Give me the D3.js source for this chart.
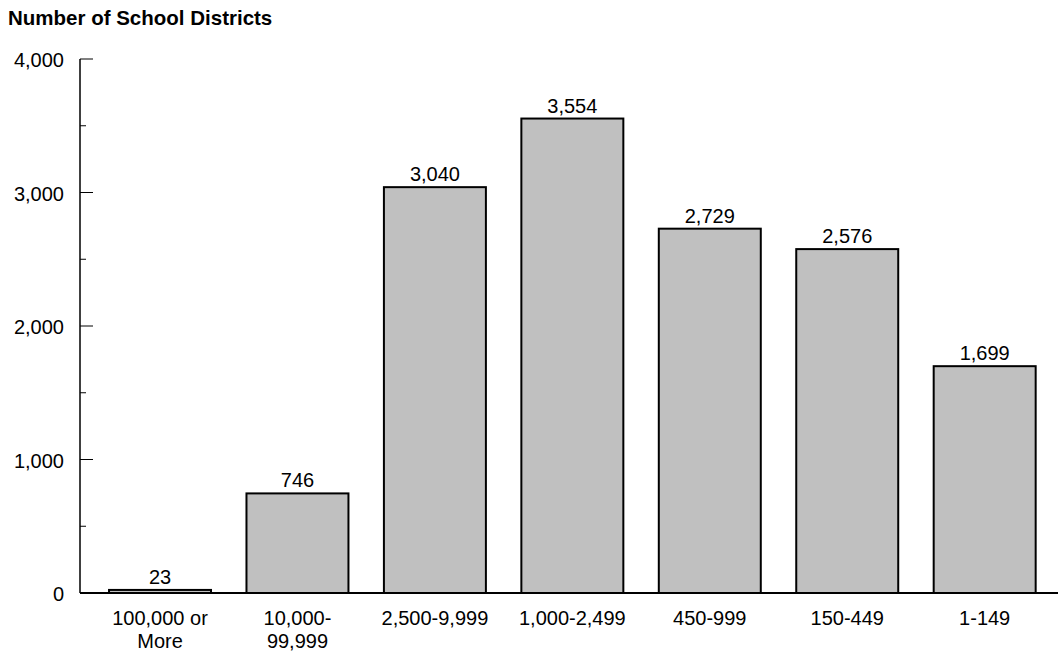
<!DOCTYPE html>
<html>
<head>
<meta charset="utf-8">
<script src="https://cdn.jsdelivr.net/npm/d3@7"></script>
<style>
  body { margin: 0; background: #fff; }
  text { font-family: 'Liberation Sans', Arial, sans-serif; fill: #000; }
</style>
</head>
<body>
<div id="chart"></div>
<script>
const categories = [['100,000 or', 'More'], ['10,000-', '99,999'], ['2,500-9,999'], ['1,000-2,499'], ['450-999'], ['150-449'], ['1-149']];
const values = [23, 746, 3040, 3554, 2729, 2576, 1699];
const yTicks = [0, 1000, 2000, 3000, 4000];
const yMinorTicks = [500, 1500, 2500, 3500];

const width = 1058;
const height = 652;

const svg = d3.select('#chart')
  .append('svg')
  .attr('width', width)
  .attr('height', height);

const yScale = d3.scaleLinear().domain([0, 4000]).range([593, 59]);
const xScale = d3.scaleBand()
  .domain(d3.range(values.length))
  .range([91.3, 1053.4])
  .paddingInner(0.258)
  .paddingOuter(0.129);

svg.append('text')
  .attr('x', 8)
  .attr('y', 25)
  .attr('font-size', 20.5)
  .attr('font-weight', 'bold')
  .text('Number of School Districts');

// y axis, ticks point inward
const yAxis = svg.append('g').attr('transform', 'translate(80,0)');
yAxis.append('line')
  .attr('y1', yScale(4000)).attr('y2', yScale(0))
  .attr('stroke', '#000').attr('stroke-width', 1.5);
yAxis.selectAll('.major')
  .data(yTicks)
  .enter()
  .append('line')
  .attr('x1', 0).attr('x2', 13)
  .attr('y1', d => yScale(d)).attr('y2', d => yScale(d))
  .attr('stroke', '#000').attr('stroke-width', 1);
yAxis.selectAll('.minor')
  .data(yMinorTicks)
  .enter()
  .append('line')
  .attr('x1', 0).attr('x2', 6)
  .attr('y1', d => yScale(d)).attr('y2', d => yScale(d))
  .attr('stroke', '#000').attr('stroke-width', 1);
yAxis.selectAll('.tlabel')
  .data(yTicks)
  .enter()
  .append('text')
  .attr('x', -16)
  .attr('y', d => yScale(d) + 8)
  .attr('text-anchor', 'end')
  .attr('font-size', 20)
  .text(d => d3.format(',')(d));

// bars
svg.selectAll('rect')
  .data(values)
  .enter()
  .append('rect')
  .attr('x', (d, i) => xScale(i))
  .attr('y', d => yScale(d))
  .attr('width', xScale.bandwidth())
  .attr('height', d => yScale(0) - yScale(d))
  .attr('fill', '#c0c0c0')
  .attr('stroke', '#000')
  .attr('stroke-width', 2);

svg.selectAll('.vlabel')
  .data(values)
  .enter()
  .append('text')
  .attr('x', (d, i) => xScale(i) + xScale.bandwidth() / 2)
  .attr('y', d => yScale(d) - 6)
  .attr('text-anchor', 'middle')
  .attr('font-size', 20)
  .text(d => d3.format(',')(d));

// x axis baseline
svg.append('line')
  .attr('x1', 80).attr('x2', width)
  .attr('y1', yScale(0)).attr('y2', yScale(0))
  .attr('stroke', '#000').attr('stroke-width', 2);

const xl = svg.selectAll('.xlabel')
  .data(categories)
  .enter()
  .append('text')
  .attr('text-anchor', 'middle')
  .attr('font-size', 20)
  .attr('y', 625);
xl.selectAll('tspan')
  .data((d, i) => d.map(t => ({ t, i })))
  .enter()
  .append('tspan')
  .attr('x', d => xScale(d.i) + xScale.bandwidth() / 2)
  .attr('dy', (d, j) => j === 0 ? 0 : 23)
  .text(d => d.t);
</script>
</body>
</html>
